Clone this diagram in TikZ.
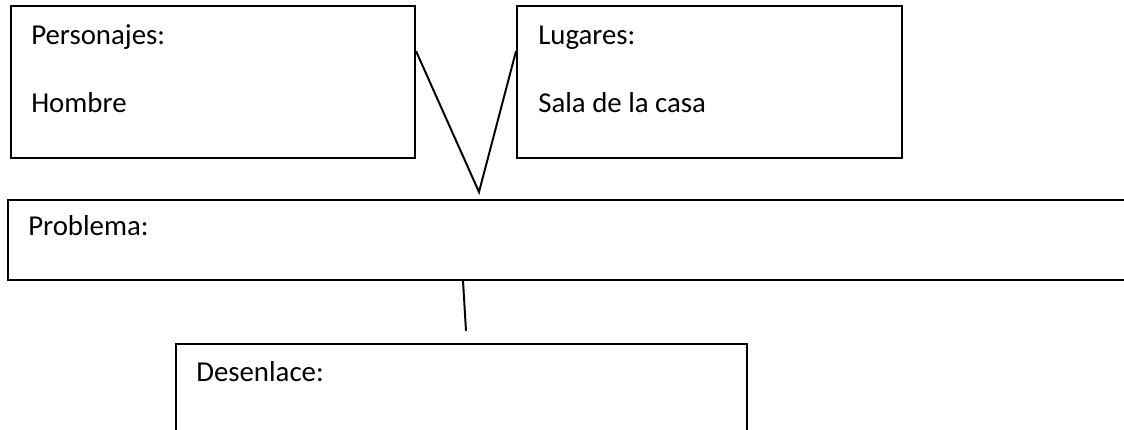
\documentclass[tikz,border=0pt]{standalone}
\usepackage{fontspec}
\setmainfont{Carlito}
\usetikzlibrary{positioning, calc}

\tikzset{
    box/.style={draw, line width=1.4pt, rectangle, inner sep=0pt, anchor=north west},
    lbl/.style={anchor=base west, inner sep=0pt, font=\fontsize{20.5}{24}\selectfont},
    link/.style={line width=1.4pt}
}

\begin{document}
\begin{tikzpicture}[x=0.025cm, y=-0.025cm]
    % frame of the page
    \clip (0,0) rectangle (1124,429);

    % Boxes
    \node[box, minimum width=10.1cm, minimum height=3.8cm] (pers) at (10,5) {};
    \node[box, minimum width=9.625cm, minimum height=3.8cm] (lug) at (516,5) {};
    \node[box, minimum width=28.3cm, minimum height=2cm] (prob) at (7,199) {};
    \node[box, minimum width=14.275cm, minimum height=2.6cm] (des) at (175,343) {};

    % Labels
    \node[lbl] (perst) at (31,44) {Personajes:};
    \node[lbl] (hombre) at (31,112) {Hombre};
    \node[lbl] (lugt) at (538,44) {Lugares:};
    \node[lbl] (sala) at (538,112) {Sala de la casa};
    \node[lbl] (probt) at (28,235) {Problema:};
    \node[lbl] (dest) at (196,381) {Desenlace:};

    % Connectors
    \coordinate (apex) at (479,192);
    \coordinate (tail) at (466,331);
    \draw[link] ($(pers.north east)!0.3!(pers.south east)$) -- (apex)
        -- ($(lug.north west)!0.3!(lug.south west)$);
    \draw[link] ($(prob.south west)+(456,0)$) -- (tail);
\end{tikzpicture}
\end{document}
